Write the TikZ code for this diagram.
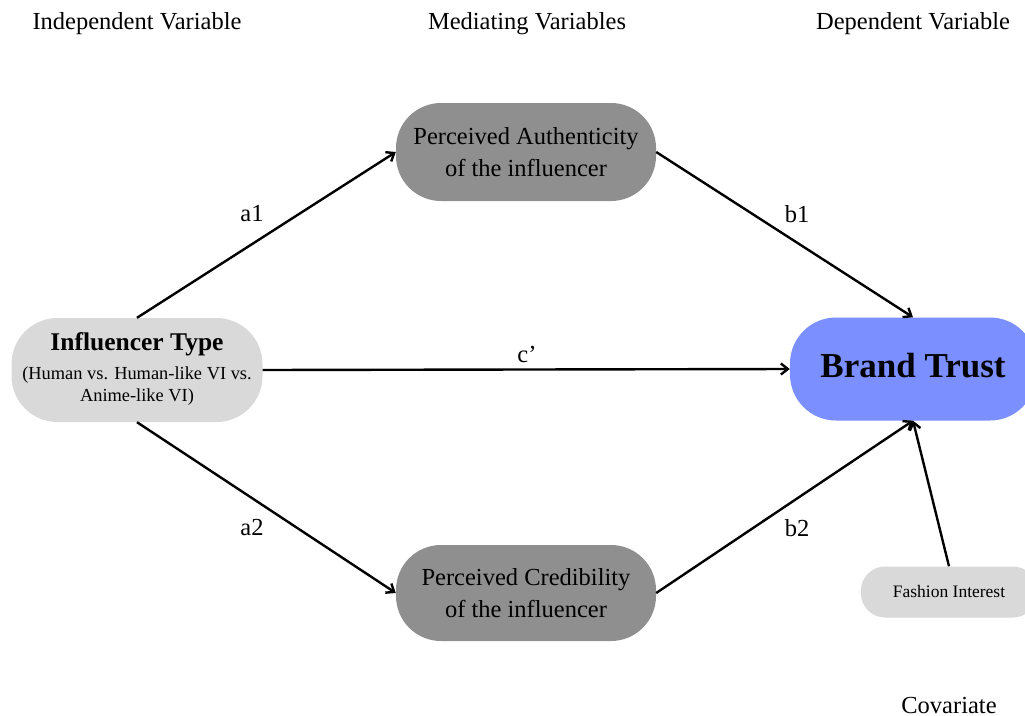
\documentclass[tikz,border=0pt]{standalone}
\usepackage{fontspec}
\setmainfont{Liberation Serif}
\usetikzlibrary{arrows.meta}

\definecolor{ivgray}{HTML}{D9D9D9}
\definecolor{medgray}{HTML}{8F8F8F}
\definecolor{trustblue}{HTML}{7B8FFF}

\begin{document}
\begin{tikzpicture}[x=1pt,y=-1pt,
    pill/.style={rectangle, align=center, inner sep=0pt},
    path/.style={draw, line width=2.4pt, -{Straight Barb[length=7pt,width=11pt]}},
    big/.style={font=\fontsize{24.5}{32}\selectfont}]
\useasboundingbox (0,0) rectangle (1025,715);

% column headings
\node[big] (hiv) at (137,24) {Independent Variable};
\node[big] (hmv) at (527,24) {Mediating Variables};
\node[big] (hdv) at (913,24) {Dependent Variable};
\node[big] (hcov) at (949,705) {Covariate};

% boxes
\node[pill, fill=ivgray, minimum width=251pt, minimum height=104pt, rounded corners=46pt] (type) at (137,370) {};
\node[font=\fontsize{25.5}{28}\selectfont\bfseries] (typet) at (137,344) {Influencer Type};
\node[font=\fontsize{18.4}{22}\selectfont, align=center] (types) at (137,386) {(Human vs. Human-like VI vs.\\Anime-like VI)};

\node[pill, fill=medgray, minimum width=260pt, minimum height=98pt, rounded corners=45pt, big] (auth) at (526,152) {Perceived Authenticity\\of the influencer};
\node[pill, fill=medgray, minimum width=260pt, minimum height=96pt, rounded corners=45pt, big] (cred) at (526,593) {Perceived Credibility\\of the influencer};

\node[pill, fill=trustblue, minimum width=246pt, minimum height=103pt, rounded corners=46pt] (trust) at (913,369) {};
\node[font=\fontsize{35}{40}\selectfont\bfseries] (trustt) at (913,366) {Brand Trust};

\node[pill, fill=ivgray, minimum width=176pt, minimum height=51pt, rounded corners=24pt, font=\fontsize{17.5}{20}\selectfont] (fash) at (949,592) {Fashion Interest};

% paths
\path[path] (type.north) -- (auth.west);
\path[path] (type.east) -- (trust.west);
\path[path] (type.south) -- (cred.west);
\path[path] (auth.east) -- (trust.north);
\path[path] (cred.east) -- (trust.south);
\path[path] (fash.north) -- (trust.south);

% path labels
\node[big] (la1) at (252,214) {a1};
\node[big] (lb1) at (797,214) {b1};
\node[big] (lc) at (527,354) {c’};
\node[big] (la2) at (252,528) {a2};
\node[big] (lb2) at (797,528) {b2};
\end{tikzpicture}
\end{document}
